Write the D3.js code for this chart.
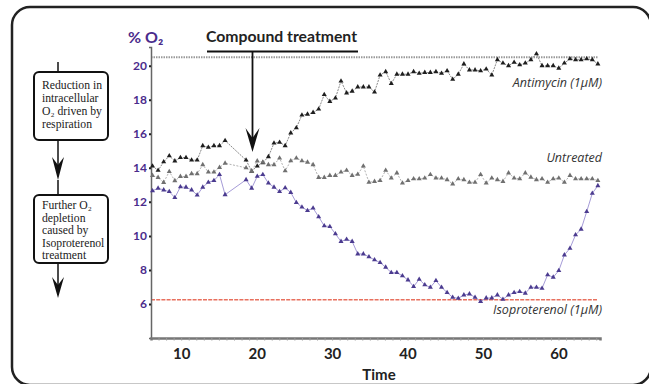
<!DOCTYPE html>
<html><head><meta charset="utf-8">
<script src="https://cdn.jsdelivr.net/npm/d3@7"></script>
<style>body{margin:0;background:#fff}svg{display:block}</style>
</head><body><svg id="c" width="649" height="384"></svg>
<script>
// ---- data ----
const timePoints = [6.20, 6.94, 7.68, 8.42, 9.16, 9.90, 10.64, 11.38, 12.12, 12.86, 13.60, 14.34, 15.08, 15.82,
  18.60, 19.34, 20.08, 20.82, 21.56, 22.30, 23.04, 23.78, 24.52, 25.26, 26.00, 26.74, 27.48, 28.22, 28.96, 29.70,
  30.44, 31.18, 31.92, 32.66, 33.40, 34.14, 34.88, 35.62, 36.36, 37.10, 37.84, 38.58, 39.32, 40.06, 40.80, 41.54,
  42.28, 43.02, 43.76, 44.50, 45.24, 45.98, 46.72, 47.46, 48.20, 48.94, 49.68, 50.42, 51.16, 51.90, 52.64, 53.38,
  54.12, 54.86, 55.60, 56.34, 57.08, 57.82, 58.56, 59.30, 60.04, 60.78, 61.52, 62.26, 63.00, 63.74, 64.48, 65.22];
const antimycin = [14.1, 13.85, 14.35, 14.7, 14.4, 14.6, 14.6, 14.45, 14.45, 15.3, 15.2, 15.3, 15.3, 15.6,
  14.45, 13.8, 14.1, 14.3, 14.65, 15.45, 15.5, 15.3, 16.05, 16.35, 17.1, 17.15, 17.25, 17.45, 18.3, 17.9, 18.1, 19.1,
  18.4, 18.5, 18.75, 18.75, 18.75, 18.45, 19.45, 19.65, 18.95, 19.5, 19.5, 19.5, 19.65, 19.55, 19.6, 19.6, 19.65,
  19.55, 19.7, 19.2, 19.5, 20.1, 19.75, 19.75, 19.7, 19.8, 19.45, 20.35, 20.15, 20.0, 20.2, 20.05, 20.15, 20.35,
  20.7, 20.0, 20.0, 20.0, 19.85, 20.15, 20.4, 20.35, 20.35, 20.4, 20.35, 20.1];
const untreated = [13.55, 13.43, 13.14, 13.78, 13.24, 13.49, 13.49, 13.65, 13.65, 14.18, 13.75, 13.75, 14.02, 14.27,
  14.0, 13.8, 14.4, 14.33, 14.18, 14.18, 14.57, 13.82, 14.41, 14.57, 14.41, 14.33, 14.18, 13.43, 13.43, 13.55, 13.55,
  13.75, 13.85, 13.55, 13.62, 14.1, 13.15, 13.2, 13.25, 13.85, 13.4, 13.7, 13.1, 13.25, 13.35, 13.35, 13.4, 13.6,
  13.4, 13.4, 13.3, 13.05, 13.35, 13.3, 13.15, 13.15, 13.6, 13.1, 13.4, 13.3, 13.2, 13.7, 13.4, 13.35, 13.7, 13.45,
  13.3, 13.35, 13.15, 13.35, 13.4, 13.15, 13.55, 13.35, 13.35, 13.35, 13.35, 13.25];
const isoproterenol = [12.65, 12.8, 12.7, 12.6, 12.25, 12.88, 12.86, 12.7, 12.4, 12.86, 13.15, 13.25, 13.6, 12.42,
  13.3, 12.8, 13.5, 13.6, 13.1, 12.86, 12.6, 12.82, 12.55, 11.96, 11.69, 11.49, 11.63,
  11.12, 10.59, 10.55, 10.12, 9.67, 9.8, 9.67, 8.94, 8.94, 8.77, 8.59, 8.43, 8.16, 7.84, 7.84, 7.65, 7.41, 7.02,
  7.45, 7.12, 6.98, 7.37, 6.98, 6.67, 6.39, 6.33, 6.53, 6.59, 6.39, 6.14, 6.35, 6.35, 6.53, 6.27, 6.53, 6.67, 6.73,
  6.63, 6.98, 6.98, 6.92, 7.71, 7.57, 7.96, 8.88, 9.27, 10.06, 10.39, 11.43, 12.5, 12.95];
const seriesNames = ["Antimycin (1μM)", "Untreated", "Isoproterenol (1μM)"];
const xTicks = [10, 20, 30, 40, 50, 60];
const xMinorTicks = [7,8,9,10,11,12,13,14,15,16,17,18,19,20,21,22,23,24,25,26,27,28,29,30,31,32,33,34,35,36,37,38,39,40,41,42,43,44,45,46,47,48,49,50,51,52,53,54,55,56,57,58,59,60,61,62,63,64,65];
const yTicks = [6, 8, 10, 12, 14, 16, 18, 20];
const ambientLevel = 20.5;
const hypoxiaLevel = 6.25;
const treatmentTime = 19.45;
const box1Lines = ["Reduction in", "intracellular", "O₂ driven by", "respiration"];
const box2Lines = ["Further O₂", "depletion", "caused by", "Isoproterenol", "treatment"];

// ---- drawing ----
const svg = d3.select("#c");
const x = d3.scaleLinear().domain([6, 65.5]).range([151, 600]);
const y = d3.scaleLinear().domain([4, 21.1]).range([338, 47]);

// outer frame (right and bottom edges run off the picture)
svg.append("rect").attr("x", 12).attr("y", 7).attr("width", 639).attr("height", 378)
  .attr("rx", 18).attr("fill", "none").attr("stroke", "#222").attr("stroke-width", 2.5);

function arrowHead(g, tx, ty, L, w, n) {
  g.append("path").attr("d", `M${tx},${ty} L${tx - w},${ty - L} L${tx},${ty - L + n} L${tx + w},${ty - L} Z`)
    .attr("fill", "#111");
}

// left flow boxes
const lp = svg.append("g");
lp.append("line").attr("x1", 58).attr("x2", 58).attr("y1", 62).attr("y2", 72).attr("stroke", "#111").attr("stroke-width", 1.5);
lp.append("rect").attr("x", 34).attr("y", 72).attr("width", 74).attr("height", 68).attr("rx", 5)
  .attr("fill", "#fff").attr("stroke", "#111").attr("stroke-width", 2);
lp.append("line").attr("x1", 58).attr("x2", 58).attr("y1", 140).attr("y2", 172).attr("stroke", "#111").attr("stroke-width", 1.5);
arrowHead(lp, 58, 180, 23, 6, 8);
lp.append("line").attr("x1", 58).attr("x2", 58).attr("y1", 180).attr("y2", 195).attr("stroke", "#111").attr("stroke-width", 1.5);
lp.append("rect").attr("x", 34).attr("y", 195).attr("width", 74).attr("height", 68).attr("rx", 5)
  .attr("fill", "#fff").attr("stroke", "#111").attr("stroke-width", 2);
lp.append("line").attr("x1", 58).attr("x2", 58).attr("y1", 263).attr("y2", 290).attr("stroke", "#111").attr("stroke-width", 1.5);
arrowHead(lp, 58, 298, 21, 6, 8);
const serif = "'Liberation Serif','DejaVu Serif',serif";
box1Lines.forEach((t, i) => lp.append("text").attr("x", 42).attr("y", 89 + i * 13).text(t)
  .attr("font-family", serif).attr("font-size", 11.7).attr("fill", "#222"));
box2Lines.forEach((t, i) => lp.append("text").attr("x", 42).attr("y", 209 + i * 12.5).text(t)
  .attr("font-family", serif).attr("font-size", 11.7).attr("fill", "#222"));

// reference lines
svg.append("line").attr("x1", x(6)).attr("x2", 598).attr("y1", y(ambientLevel)).attr("y2", y(ambientLevel))
  .attr("stroke", "#9a9a9a").attr("stroke-width", 2).attr("stroke-dasharray", "1.5,1");
svg.append("line").attr("x1", x(6)).attr("x2", 598).attr("y1", y(hypoxiaLevel)).attr("y2", y(hypoxiaLevel))
  .attr("stroke", "#e8705e").attr("stroke-width", 1.5).attr("stroke-dasharray", "4,1.2");

// axes
const sans = "Lato, 'Open Sans', sans-serif";
const yAx = svg.append("g").attr("transform", `translate(${x(6)},0)`)
  .call(d3.axisLeft(y).tickValues(yTicks).tickSize(2).tickPadding(2).tickFormat(d3.format("d")));
yAx.select(".domain").attr("stroke", "#666").attr("stroke-width", 1.5);
yAx.selectAll(".tick line").attr("stroke", "#222").attr("stroke-width", 2);
yAx.selectAll(".tick text").attr("font-family", sans).attr("font-weight", "bold").attr("font-size", 12).attr("fill", "#4b2c8c");

const xMinor = svg.append("g").attr("transform", `translate(0,${y(4)})`)
  .call(d3.axisBottom(x).tickValues(xMinorTicks).tickSize(2.5).tickFormat(""));
xMinor.select(".domain").attr("stroke", "#777").attr("stroke-width", 2.5);
xMinor.selectAll(".tick line").attr("stroke", "#999").attr("stroke-width", 1);
const xAx = svg.append("g").attr("transform", `translate(0,${y(4)})`)
  .call(d3.axisBottom(x).tickValues(xTicks).tickSize(0).tickPadding(10).tickFormat(d3.format("d")));
xAx.select(".domain").remove();
xAx.selectAll(".tick text").attr("font-family", sans).attr("font-weight", "bold").attr("font-size", 15).attr("fill", "#222");

svg.append("text").attr("x", 379).attr("y", 380).attr("text-anchor", "middle").text("Time")
  .attr("font-family", sans).attr("font-weight", "bold").attr("font-size", 15).attr("fill", "#222");
svg.append("text").attr("x", 128).attr("y", 43).text("% O₂")
  .attr("font-family", sans).attr("font-weight", "bold").attr("font-size", 16).attr("fill", "#4b2c8c");

// series
const series = [
  {name: seriesNames[0], values: antimycin, line: "#7a7a7a", dash: "2,1", mark: "#1e1e1e", ly: 87},
  {name: seriesNames[1], values: untreated, line: "#a8a8a8", dash: "2,1.5", mark: "#707070", ly: 162},
  {name: seriesNames[2], values: isoproterenol, line: "#9b90d2", dash: null, mark: "#4b3b8f", ly: 314}
];
const lineGen = d3.line().x((d, i) => x(timePoints[i])).y(d => y(d));
const tri = d3.symbol().type(d3.symbolTriangle).size(11);
series.forEach(s => {
  svg.append("path").attr("d", lineGen(s.values)).attr("fill", "none")
    .attr("stroke", s.line).attr("stroke-width", 0.9).attr("stroke-dasharray", s.dash);
  svg.append("g").selectAll("path").data(s.values).join("path")
    .attr("d", tri).attr("transform", (d, i) => `translate(${x(timePoints[i])},${y(d)})`)
    .attr("fill", s.mark);
  svg.append("text").attr("x", 602).attr("y", s.ly).attr("text-anchor", "end").text(s.name)
    .attr("font-family", "'Open Sans', sans-serif").attr("font-style", "italic").attr("font-size", 12.5).attr("fill", "#333");
});

// compound treatment annotation
svg.append("text").attr("x", 206).attr("y", 42).text("Compound treatment")
  .attr("textLength", 151).attr("lengthAdjust", "spacingAndGlyphs")
  .attr("font-family", sans).attr("font-weight", "bold").attr("font-size", 14.5).attr("fill", "#222");
svg.append("line").attr("x1", 207).attr("x2", 358).attr("y1", 51.5).attr("y2", 51.5).attr("stroke", "#111").attr("stroke-width", 2);
const tx = x(treatmentTime);
svg.append("line").attr("x1", tx).attr("x2", tx).attr("y1", 51.5).attr("y2", 140).attr("stroke", "#111").attr("stroke-width", 1.8);
arrowHead(svg, tx, 152, 24, 7, 10);
</script>
</body></html>
